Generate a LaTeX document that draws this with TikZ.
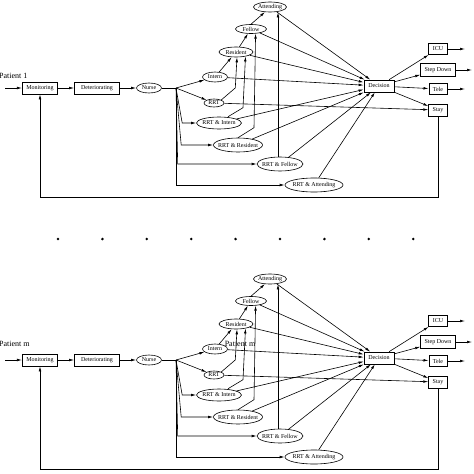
\documentclass[tikz,border=0pt]{standalone}
\usepackage{fontspec}
\setmainfont{Liberation Serif}
\usetikzlibrary{arrows.meta,positioning,shapes}

\begin{document}
\begin{tikzpicture}[
  x=1pt, y=-1pt,
  font=\fontsize{6}{7}\selectfont,
  box/.style={draw, line width=0.7pt, inner xsep=4pt, minimum height=11pt},
  ell/.style={draw, ellipse, inner sep=0pt, line width=0.6pt},
  arr/.style={-{Latex[length=5pt, width=2.6pt]}, line width=0.6pt},
  lab/.style={font=\fontsize{8}{9}\selectfont, anchor=west, inner sep=0pt}
]
\useasboundingbox (0,0) rectangle (474,474);

\foreach \p/\off/\ly in {1/0/76, m/272/72} {
\begin{scope}[yshift=-\off pt]
% patient flow
\node[lab] (pat\p) at (-1,\ly) {Patient \p};
\coordinate (in\p) at (5,88);
\node[box, minimum width=35pt] (mon\p) at (40,88) {Monitoring};
\node[box, minimum width=45pt, minimum height=12pt] (det\p) at (97,88) {Deteriorating};
\node[ell, minimum width=25pt, minimum height=10pt, label=center:Nurse] (nurse\p) at (149,88) {};
\coordinate (br\p) at (176,88);

% responders
\node[ell, minimum width=25pt, minimum height=10pt, label=center:Intern] (int\p) at (215,77) {};
\node[ell, minimum width=20pt, minimum height=8pt, label=center:RRT] (rrt\p) at (214,103) {};
\node[ell, minimum width=45pt, minimum height=12pt, label=center:{RRT \& Intern}] (ri\p) at (219,123) {};
\node[ell, minimum width=49pt, minimum height=14pt, label=center:{RRT \& Resident}] (rres\p) at (238,145) {};
\node[ell, minimum width=46pt, minimum height=14pt, label=center:{RRT \& Fellow}] (rfel\p) at (280,164) {};
\node[ell, minimum width=58pt, minimum height=14pt, label=center:{RRT \& Attending}] (ratt\p) at (314,185) {};
\node[ell, minimum width=34pt, minimum height=10pt, label=center:Resident] (res\p) at (236,52) {};
\node[ell, minimum width=31pt, minimum height=9pt, label=center:Fellow] (fel\p) at (251,29) {};
\node[ell, minimum width=33pt, minimum height=10pt, label=center:Attending] (att\p) at (270,7) {};

% outcomes
\node[box, minimum width=30pt, minimum height=12pt] (dec\p) at (379,86) {Decision};
\node[box] (icu\p) at (438,49) {ICU};
\node[box, minimum height=13pt] (sd\p) at (438,70) {Step Down};
\node[box] (tele\p) at (438,89) {Tele};
\node[box] (stay\p) at (438,110) {Stay};
\coordinate (icuo\p) at (465,49);
\coordinate (sdo\p) at (472,70);
\coordinate (teleo\p) at (465,89);

\draw[arr] (in\p) -- (mon\p);
\draw[arr] (mon\p) -- (det\p);
\draw[arr] (det\p) -- (nurse\p);
\draw[line width=0.6pt] (nurse\p) -- (br\p);
\draw[arr] (br\p) -- (int\p);
\draw[arr] (br\p) -- (rrt\p);
\draw[arr] (br\p) -- ([xshift=-14pt]ri\p.west) -- (ri\p.west);
\draw[arr] (br\p) -- ([xshift=-32pt]rres\p.west) -- (rres\p.west);
\draw[arr] (br\p) -- ([xshift=-79pt]rfel\p.west) -- (rfel\p.west);
\draw[arr] (br\p) |- (ratt\p);

\draw[arr] (int\p) -- (res\p);
\draw[arr] (res\p) -- (fel\p);
\draw[arr] (fel\p.north) -- (att\p.225);
\draw[arr] (rrt\p.north east) -- ++(14,-12) -- ([xshift=1pt]res\p.south);
\draw[arr] ([xshift=9pt]ri\p.north) -- ++(15,-9) -- (res\p.335);
\draw[arr] (rres\p.north) -- ++(16,-10) -- (fel\p.315);
\draw[arr] ([xshift=-2pt]rfel\p.north) -- ([xshift=-2pt]rfel\p.north |- att\p.south);

\draw[arr] (att\p) -- (dec\p);
\draw[arr] (fel\p) -- (dec\p);
\draw[arr] (res\p) -- (dec\p);
\draw[arr] (int\p) -- (dec\p);
\draw[arr] (ri\p) -- (dec\p);
\draw[arr] (rres\p) -- (dec\p);
\draw[arr] (rfel\p) -- (dec\p);
\draw[arr] (ratt\p) -- (dec\p);
\draw[arr] (rrt\p) -- (stay\p);

\draw[arr] (dec\p) -- (icu\p);
\draw[arr] (dec\p) -- (sd\p);
\draw[arr] (dec\p) -- (tele\p);
\draw[arr] (dec\p) -- (stay\p);
\draw[arr] (icu\p) -- (icuo\p);
\draw[arr] (sd\p) -- (sdo\p);
\draw[arr] (tele\p) -- (teleo\p);
\draw[arr] (stay\p.south) -- ++(0,81) -| (mon\p.south);
\end{scope}
}

% more patients
\foreach \k in {0,...,8}
  \fill (58+44.4*\k,239) circle (1.4pt);

\node[lab, anchor=center] (stray) at (240,344) {Patient m};
\end{tikzpicture}
\end{document}
